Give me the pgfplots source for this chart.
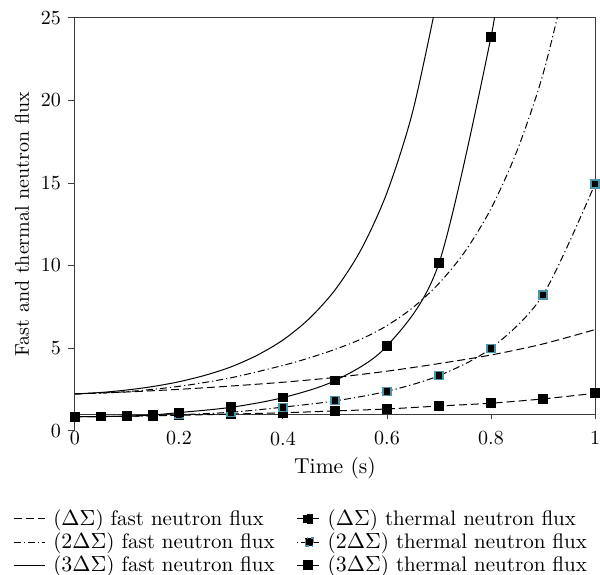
\documentclass[border=0pt]{standalone}
\usepackage{pgfplots}
\pgfplotsset{compat=1.18}
\definecolor{tealedge}{RGB}{72,150,170}
\definecolor{frame}{RGB}{60,60,60}
\begin{document}
\begin{tikzpicture}
\begin{axis}[
    scale only axis,
    width=260pt, height=206.3pt,
    xmin=0, xmax=1, ymin=0, ymax=25,
    axis lines*=left,
    x axis line style={draw=none},
    y axis line style={frame, line width=0.5pt},
    xtick={0,0.2,0.4,0.6,0.8,1},
    xticklabels={0,0.2,0.4,0.6,0.8,1},
    xtick style={draw=none},
    xticklabel style={yshift=6.5pt},
    ytick={0,5,10,15,20,25},
    ytick style={frame, line width=0.5pt},
    tick align=outside,
    major tick length=3.5pt,
    tick label style={font=\fontsize{10}{12}\selectfont},
    label style={font=\fontsize{10.8}{12}\selectfont},
    xlabel={Time (s)},
    xlabel style={at={(axis description cs:0.5,0)}, anchor=center, yshift=-18.7pt},
    ylabel={Fast and thermal neutron flux},
    every axis y label/.style={at={(axis description cs:-0.102,0.5)}, rotate=90, anchor=center},
    clip mode=individual,
    legend columns=2,
    legend cell align=left,
    legend style={draw=none, fill=none, at={(-0.131,-0.171)}, anchor=north west,
        font=\fontsize{10.5}{12}\selectfont, row sep=-1.8pt,
        /tikz/column 1/.style={column sep=2pt},
        /tikz/column 2/.style={column sep=9pt},
        /tikz/column 3/.style={column sep=2pt}},
    fastleg/.style={legend image code/.code={\draw[##1] (0pt,0pt) -- (15.5pt,0pt);}},
]
% frame: top, right and the horizontal axis at y = 1
\draw[frame, line width=0.5pt] (axis cs:0,1) -- (axis cs:1,1) -- (axis cs:1,25) -- (axis cs:0,25);
\draw[frame, line width=0.5pt] (axis cs:0,1) -- ++(0,-2.5pt);
\draw[frame, line width=0.5pt] (axis cs:0.2,1) -- ++(0,-2.5pt);
\draw[frame, line width=0.5pt] (axis cs:0.4,1) -- ++(0,-2.5pt);
\draw[frame, line width=0.5pt] (axis cs:0.6,1) -- ++(0,-2.5pt);
\draw[frame, line width=0.5pt] (axis cs:0.8,1) -- ++(0,-2.5pt);
\draw[frame, line width=0.5pt] (axis cs:1,1) -- ++(0,-2.5pt);
\coordinate (bl) at (rel axis cs:0,0);
\coordinate (tr) at (rel axis cs:1,1);

% (dS) fast
\addplot[black, line width=0.5pt, dash pattern=on 4pt off 2pt, smooth, fastleg] coordinates {
(0,2.22) (0.1,2.34) (0.2,2.50) (0.3,2.70) (0.4,2.93) (0.5,3.22) (0.6,3.60) (0.7,4.06) (0.8,4.58) (0.9,5.25) (1,6.12)};
\addlegendentry{($\Delta\Sigma$) fast neutron flux}
% (dS) thermal
\addplot[black, line width=0.5pt, dash pattern=on 4pt off 2pt, smooth, mark=square*, mark size=2.2pt, mark options={solid, fill=black},
    legend image code/.code={
        \draw[black, line width=0.5pt] (0pt,0pt) -- (3pt,0pt) (8pt,0pt) -- (11pt,0pt);
        \fill[black] (5.5pt,0pt) ++(-2.2pt,-2.2pt) rectangle ++(4.4pt,4.4pt);}] coordinates {
(0,0.84) (0.05,0.85) (0.1,0.87) (0.15,0.9) (0.2,0.93) (0.3,1.0) (0.4,1.08) (0.5,1.19) (0.6,1.31) (0.7,1.49) (0.8,1.66) (0.9,1.92) (1,2.26)};
\addlegendentry{($\Delta\Sigma$) thermal neutron flux}
% (2dS) fast
\addplot[black, line width=0.5pt, dash pattern=on 3.5pt off 1.5pt on 0.6pt off 1.5pt, smooth, fastleg] coordinates {
(0,2.22) (0.1,2.36) (0.2,2.68) (0.3,3.20) (0.4,3.95) (0.45,4.40) (0.5,4.92) (0.55,5.54) (0.6,6.36) (0.65,7.46) (0.7,8.92) (0.75,10.85) (0.8,13.45) (0.85,16.95) (0.9,21.6) (0.95,28.0)};
\addlegendentry{($2\Delta\Sigma$) fast neutron flux}
% (2dS) thermal
\addplot[black, line width=0.5pt, dash pattern=on 3.5pt off 1.5pt on 0.6pt off 1.5pt, smooth, mark=square*, mark size=2pt, mark options={solid, fill=black, draw=tealedge, line width=0.6pt},
    legend image code/.code={
        \draw[black, line width=0.5pt] (0pt,0pt) -- (0.6pt,0pt) (2pt,0pt) -- (4pt,0pt) (8.5pt,0pt) -- (11pt,0pt);
        \draw[fill=black, draw=tealedge, line width=0.6pt] (6pt,0pt) ++(-2pt,-2pt) rectangle ++(4pt,4pt);}] coordinates {
(0,0.84) (0.05,0.85) (0.1,0.87) (0.15,0.9) (0.2,0.96) (0.3,1.11) (0.4,1.42) (0.5,1.80) (0.6,2.38) (0.7,3.33) (0.8,4.99) (0.9,8.22) (1,14.94)};
\addlegendentry{($2\Delta\Sigma$) thermal neutron flux}
% (3dS) fast
\addplot[black, line width=0.5pt, smooth, fastleg] coordinates {
(0,2.22) (0.05,2.31) (0.1,2.46) (0.15,2.67) (0.2,2.96) (0.25,3.35) (0.3,3.86) (0.35,4.56) (0.4,5.49) (0.45,6.77) (0.5,8.52) (0.55,10.96) (0.6,14.42) (0.65,19.40) (0.7,26.7)};
\addlegendentry{($3\Delta\Sigma$) fast neutron flux}
% (3dS) thermal
\addplot[black, line width=0.5pt, smooth, mark=square*, mark size=2.2pt, mark options={fill=black},
    mark indices={1,2,3,4,5,6,7,8,9,10,11},
    legend image code/.code={
        \draw[black, line width=0.5pt] (0pt,0pt) -- (11pt,0pt);
        \fill[black] (5.5pt,0pt) ++(-2.2pt,-2.2pt) rectangle ++(4.4pt,4.4pt);}] coordinates {
(0,0.84) (0.05,0.85) (0.1,0.88) (0.15,0.95) (0.2,1.09) (0.3,1.41) (0.4,2.0) (0.5,3.03) (0.6,5.13) (0.7,10.15) (0.8,23.85) (0.81,27)};
\addlegendentry{($3\Delta\Sigma$) thermal neutron flux}
\end{axis}
\path (bl) ++(-37.5pt,-72.2pt) coordinate (p1);
\path (tr) ++(2.5pt,9pt) coordinate (p2);
\pgfresetboundingbox
\path[use as bounding box] (p1) rectangle (p2);
\end{tikzpicture}
\end{document}
